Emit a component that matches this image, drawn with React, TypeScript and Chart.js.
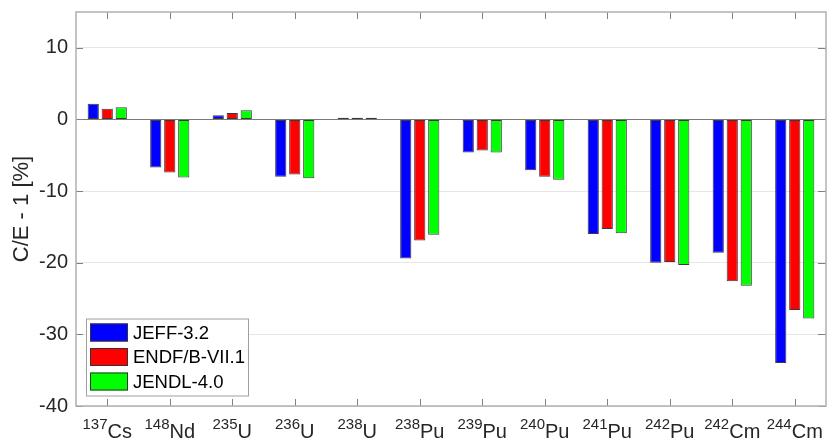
import React, { useEffect, useRef } from "react";
import { Chart, registerables } from "chart.js";

Chart.register(...registerables);

// Categories (mass number + element symbol)
const massNumbers = ["137", "148", "235", "236", "238", "238", "239", "240", "241", "242", "242", "244"];
const elements = ["Cs", "Nd", "U", "U", "U", "Pu", "Pu", "Pu", "Pu", "Pu", "Cm", "Cm"];

// Series values: C/E - 1 [%]
const jeff32 = [2.2, -6.7, 0.6, -8.0, 0.25, -19.4, -4.6, -7.1, -16.0, -20.0, -18.6, -34.0];
const endfb71 = [1.5, -7.4, 0.9, -7.7, 0.25, -16.9, -4.35, -8.0, -15.3, -19.9, -22.6, -26.6];
const jendl40 = [1.7, -8.1, 1.3, -8.2, 0.25, -16.1, -4.6, -8.4, -15.9, -20.3, -23.2, -27.8];

const seriesNames = ["JEFF-3.2", "ENDF/B-VII.1", "JENDL-4.0"];
const yTickValues = [-40, -30, -20, -10, 0, 10];
const yTitle = "C/E - 1 [%]";

const FONT = '"Liberation Sans", Arial, Helvetica, sans-serif';
const TEXT = "#262626";

const decorPlugin = {
  id: "decor",
  afterDraw(chart: any) {
    const ctx = chart.ctx as CanvasRenderingContext2D;
    const ca = chart.chartArea;
    const xs = chart.scales.x;
    const ys = chart.scales.y;
    ctx.save();

    // ticks (inward)
    ctx.strokeStyle = "#808080";
    ctx.lineWidth = 1;
    ctx.beginPath();
    for (let i = 0; i < chart.data.labels.length; i++) {
      const x = Math.round(xs.getPixelForValue(i)) + 0.5;
      ctx.moveTo(x, ca.bottom);
      ctx.lineTo(x, ca.bottom - 7);
      ctx.moveTo(x, ca.top);
      ctx.lineTo(x, ca.top + 7);
    }
    for (const v of yTickValues) {
      const y = Math.round(ys.getPixelForValue(v)) + 0.5;
      ctx.moveTo(ca.left, y);
      ctx.lineTo(ca.left + 7, y);
      ctx.moveTo(ca.right, y);
      ctx.lineTo(ca.right - 8, y);
    }
    ctx.stroke();

    // axis box
    ctx.strokeStyle = "#b0b0b0";
    ctx.lineWidth = 1.5;
    ctx.strokeRect(ca.left, ca.top, ca.right - ca.left, ca.bottom - ca.top);

    // x tick labels with superscript mass numbers
    ctx.fillStyle = TEXT;
    ctx.textBaseline = "alphabetic";
    ctx.textAlign = "left";
    const supFont = `15px ${FONT}`;
    const elFont = `20px ${FONT}`;
    for (let i = 0; i < massNumbers.length; i++) {
      const cx = xs.getPixelForValue(i);
      ctx.font = supFont;
      const w1 = ctx.measureText(massNumbers[i]).width;
      ctx.font = elFont;
      const w2 = ctx.measureText(elements[i]).width;
      const x0 = cx - (w1 + w2) / 2;
      ctx.font = supFont;
      ctx.fillText(massNumbers[i], x0, ca.bottom + 23);
      ctx.font = elFont;
      ctx.fillText(elements[i], x0 + w1, ca.bottom + 32);
    }

    // legend
    const lx = ca.left + 10;
    const ly = ca.bottom - 87.5;
    ctx.fillStyle = "#ffffff";
    ctx.fillRect(lx, ly, 162, 77);
    ctx.strokeStyle = "#a0a0a0";
    ctx.lineWidth = 1;
    ctx.strokeRect(lx + 0.5, ly + 0.5, 162, 77);
    ctx.font = `18.5px ${FONT}`;
    ctx.textBaseline = "middle";
    chart.data.datasets.forEach((ds: any, i: number) => {
      const py = ly + 5 + i * 24.5;
      ctx.fillStyle = ds.backgroundColor;
      ctx.fillRect(lx + 4, py, 38, 18);
      ctx.strokeStyle = "#333333";
      ctx.strokeRect(lx + 4.5, py + 0.5, 37, 17);
      ctx.fillStyle = "#000000";
      ctx.fillText(ds.label, lx + 47, py + 10);
    });

    ctx.restore();
  },
};

export default function App() {
  const canvasRef = useRef<HTMLCanvasElement>(null);

  useEffect(() => {
    if (!canvasRef.current) return;
    const labels = massNumbers.map((m, i) => m + elements[i]);
    const colors = ["#0000ff", "#ff0000", "#00ff00"];
    const values = [jeff32, endfb71, jendl40];
    const chart = new Chart(canvasRef.current, {
      type: "bar",
      data: {
        labels,
        datasets: values.map((d, i) => ({
          label: seriesNames[i],
          data: d,
          backgroundColor: colors[i],
          borderColor: "#3a3a3a",
          borderWidth: 1,
          borderSkipped: false,
          categoryPercentage: 0.672,
          barPercentage: 0.8,
        })),
      },
      options: {
        responsive: false,
        animation: false,
        layout: { padding: { top: 12, right: 1, left: 0, bottom: 0 } },
        plugins: {
          legend: { display: false },
          tooltip: { enabled: false },
        },
        scales: {
          x: {
            grid: { display: false },
            border: { display: false },
            ticks: { display: false },
            afterFit(scale: any) {
              scale.height = 36;
              scale.paddingLeft = 0;
              scale.paddingRight = 0;
            },
          },
          y: {
            min: -40,
            max: 15,
            afterBuildTicks(scale: any) {
              scale.ticks = yTickValues.map((v) => ({ value: v }));
            },
            afterFit(scale: any) {
              scale.width = 76;
              scale.paddingTop = 0;
              scale.paddingBottom = 0;
            },
            grid: {
              drawTicks: false,
              color: (c: any) => (c.tick && c.tick.value === 0 ? "#7a7a7a" : "#e6e6e6"),
              lineWidth: 1,
            },
            border: { display: false },
            ticks: {
              padding: 8,
              color: TEXT,
              font: { size: 20, family: FONT },
            },
            title: {
              display: true,
              text: yTitle,
              color: TEXT,
              font: { size: 22, family: FONT },
              padding: { top: 9, bottom: 0 },
            },
          },
        },
      },
      plugins: [decorPlugin],
    });
    return () => chart.destroy();
  }, []);

  return (
    <div style={{ position: "fixed", left: 0, top: 0, width: 827, height: 442, background: "#fff" }}>
      <canvas ref={canvasRef} width={827} height={442} style={{ display: "block" }} />
    </div>
  );
}
